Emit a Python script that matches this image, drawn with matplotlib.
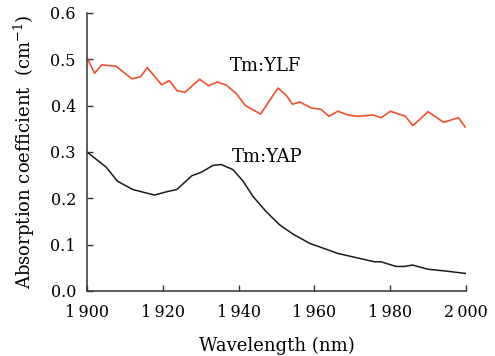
import matplotlib
matplotlib.use("Agg")
import matplotlib.pyplot as plt
from matplotlib.ticker import FuncFormatter

ylf_wl = [1900, 1902, 1903.9, 1907.7, 1911.8, 1914.1, 1915.9, 1919.7, 1921.7, 1923.8,
          1925.9, 1929.7, 1932.1, 1934.4, 1936.8, 1939.4, 1941.8, 1943.8, 1945.8, 1950.4,
          1952.6, 1954.2, 1956.1, 1959.2, 1961.8, 1963.8, 1966.2, 1968.8, 1971.5, 1975.4,
          1977.6, 1980.1, 1984.0, 1986.0, 1990.0, 1994.1, 1998.0, 1999.8]
ylf_val = [0.503, 0.470, 0.488, 0.485, 0.458, 0.462, 0.482, 0.445, 0.454, 0.432,
           0.429, 0.457, 0.443, 0.451, 0.444, 0.426, 0.400, 0.391, 0.382, 0.438,
           0.422, 0.403, 0.408, 0.395, 0.392, 0.377, 0.388, 0.380, 0.377, 0.380,
           0.374, 0.388, 0.377, 0.357, 0.387, 0.364, 0.374, 0.354]

yap_wl = [1900, 1905.1, 1908, 1912.1, 1917.8, 1920.9, 1923.7, 1927.7, 1930.1, 1933.2,
          1935.4, 1938.5, 1941.1, 1943.8, 1947.3, 1950.8, 1954.3, 1958.7, 1966.2, 1975.9,
          1977.6, 1981.5, 1983.7, 1985.9, 1989.9, 1994.7, 1999.8]
yap_val = [0.300, 0.267, 0.237, 0.219, 0.207, 0.214, 0.219, 0.249, 0.256, 0.271,
           0.273, 0.262, 0.238, 0.204, 0.171, 0.143, 0.123, 0.103, 0.081, 0.063,
           0.063, 0.053, 0.053, 0.056, 0.047, 0.043, 0.038]

x_ticks = [1900, 1920, 1940, 1960, 1980, 2000]
y_ticks = [0.0, 0.1, 0.2, 0.3, 0.4, 0.5, 0.6]

plt.rcParams['font.family'] = ['DejaVu Serif']
plt.rcParams['mathtext.fontset'] = 'dejavuserif'

fig = plt.figure(figsize=(4.95, 3.56), dpi=100)
ax = fig.add_axes([0.1758, 0.1826, 0.7656, 0.7809])

ax.plot(ylf_wl, ylf_val, color='#f0502e', lw=1.2)
ax.plot(yap_wl, yap_val, color='#1a1a1a', lw=1.1)

ax.set_xlim(1900, 2000)
ax.set_ylim(0, 0.6)
ax.set_xticks(x_ticks)
ax.set_yticks(y_ticks)
ax.xaxis.set_major_formatter(FuncFormatter(lambda v, p: f"{int(v):,}".replace(",", "\u2009")))
ax.yaxis.set_major_formatter(FuncFormatter(lambda v, p: f"{v:.1f}"))
ax.tick_params(direction='in', length=4, width=1, labelsize=11.5, color='#333333')
ax.tick_params(axis='y', pad=8)
ax.tick_params(axis='x', pad=9.5)
ax.spines['top'].set_visible(False)
ax.spines['right'].set_visible(False)
for s in ['left', 'bottom']:
    ax.spines[s].set_linewidth(1.1)
    ax.spines[s].set_color('#333333')

ax.set_xlabel('Wavelength (nm)', fontsize=13)
ax.set_ylabel('Absorption coefficient  (cm$^{-1}$)', fontsize=13)
ax.xaxis.set_label_coords(0.5, -0.165)
ax.yaxis.set_label_coords(-0.132, 0.5)

ax.text(1947, 0.485, 'Tm:YLF', fontsize=13, ha='center', va='center')
ax.text(1947.5, 0.29, 'Tm:YAP', fontsize=13, ha='center', va='center')

fig.savefig('out.png', dpi=100)
